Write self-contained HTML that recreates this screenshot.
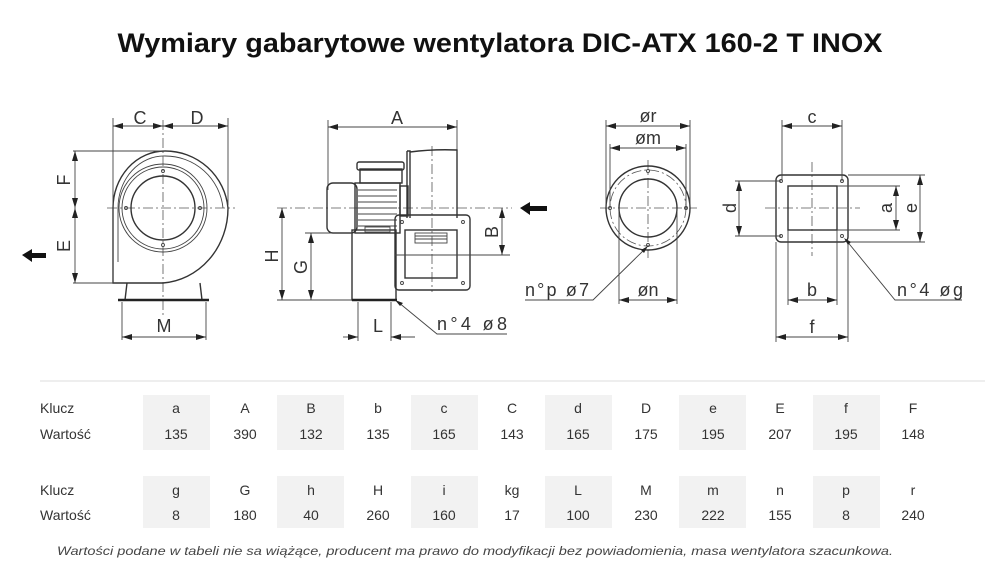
<!DOCTYPE html>
<html><head><meta charset="utf-8"><style>
html,body{margin:0;padding:0;background:#fff;}
svg{display:block;}
.l{stroke:#444;stroke-width:0.9;fill:none;}
.t{stroke:#333;stroke-width:1.4;fill:none;}
.c{stroke:#555;stroke-width:0.8;fill:none;stroke-dasharray:10 3 2 3;}
.lab{font-family:"Liberation Sans",sans-serif;font-size:18px;fill:#333;text-anchor:middle;}
.tb{font-family:"Liberation Sans",sans-serif;font-size:14px;fill:#333;text-anchor:middle;}
.tk{font-family:"Liberation Sans",sans-serif;font-size:14px;fill:#333;}
</style></head><body>
<svg width="1000" height="586" viewBox="0 0 1000 586" xmlns="http://www.w3.org/2000/svg">
<defs>
<marker id="a" viewBox="0 0 10 6" refX="10" refY="3" markerWidth="10" markerHeight="6" orient="auto-start-reverse" markerUnits="userSpaceOnUse"><path d="M0,0 L10,3 L0,6 z" fill="#222"/></marker>
</defs>
<rect width="1000" height="586" fill="#fff"/>
<text x="500" y="52" font-family="Liberation Sans,sans-serif" font-weight="bold" font-size="27" text-anchor="middle" textLength="765" lengthAdjust="spacingAndGlyphs" fill="#111">Wymiary gabarytowe wentylatora DIC-ATX 160-2 T INOX</text>

<!-- Drawing 1 -->
<g>
<line class="c" x1="163" y1="120" x2="163" y2="318"/>
<line class="c" x1="107" y1="208" x2="235" y2="208"/>
<path class="t" d="M113,283 L113,208 A52,57 0 0 1 165,151 A63,63 0 0 1 228,208 A70,75 0 0 1 163,283 Z"/>
<path class="l" d="M118,262 L118,208 A46,52 0 0 1 165,156 A58,58 0 0 1 223,208"/>
<circle class="l" cx="163" cy="208" r="44"/>
<circle class="l" cx="163" cy="208" r="41"/>
<circle class="t" cx="163" cy="208" r="32"/>
<circle class="l" cx="163" cy="171" r="1.5"/><circle class="l" cx="163" cy="245" r="1.5"/>
<circle class="l" cx="126" cy="208" r="1.5"/><circle class="l" cx="200" cy="208" r="1.5"/>
<path class="t" d="M127,283 L125,300 M200,283 L202,300"/>
<line x1="118" y1="300" x2="209" y2="300" stroke="#222" stroke-width="2.5"/>
<line class="l" x1="113" y1="118" x2="113" y2="283"/>
<line class="l" x1="228" y1="118" x2="228" y2="205"/>
<line class="l" x1="113" y1="126" x2="163" y2="126" marker-start="url(#a)" marker-end="url(#a)"/>
<line class="l" x1="163" y1="126" x2="228" y2="126" marker-start="url(#a)" marker-end="url(#a)"/>
<text class="lab" x="140" y="124">C</text><text class="lab" x="197" y="124">D</text>
<line class="l" x1="73" y1="151" x2="170" y2="151"/>
<line class="l" x1="73" y1="283" x2="113" y2="283"/>
<line class="l" x1="75" y1="151" x2="75" y2="208" marker-start="url(#a)" marker-end="url(#a)"/>
<line class="l" x1="75" y1="208" x2="75" y2="283" marker-start="url(#a)" marker-end="url(#a)"/>
<text class="lab" transform="translate(70,180) rotate(-90)">F</text>
<text class="lab" transform="translate(70,246) rotate(-90)">E</text>
<path d="M22,255 L32,249 L32,253 L46,253 L46,258 L32,258 L32,262 Z" fill="#111"/>
<line class="l" x1="122" y1="302" x2="122" y2="340"/><line class="l" x1="206" y1="302" x2="206" y2="340"/>
<line class="l" x1="122" y1="337" x2="206" y2="337" marker-start="url(#a)" marker-end="url(#a)"/>
<text class="lab" x="164" y="332">M</text>
</g>

<!-- Drawing 2 -->
<g>
<line class="c" x1="277" y1="208" x2="512" y2="208"/>
<line class="c" x1="432" y1="146" x2="432" y2="292"/>
<line class="l" x1="328" y1="120" x2="328" y2="190"/><line class="l" x1="457" y1="120" x2="457" y2="152"/>
<line class="l" x1="328" y1="127" x2="457" y2="127" marker-start="url(#a)" marker-end="url(#a)"/>
<text class="lab" x="397" y="124">A</text>
<rect class="t" x="327" y="183" width="30" height="50" rx="6"/>
<rect class="t" x="355" y="183" width="45" height="50"/>
<g class="l"><line x1="358" y1="190" x2="397" y2="190"/><line x1="358" y1="196" x2="397" y2="196"/><line x1="358" y1="202" x2="397" y2="202"/><line x1="358" y1="208" x2="397" y2="208"/><line x1="358" y1="214" x2="397" y2="214"/><line x1="358" y1="220" x2="397" y2="220"/><line x1="358" y1="226" x2="397" y2="226"/></g>
<rect class="t" x="360" y="169" width="42" height="14"/>
<rect class="t" x="357" y="162" width="47" height="8" rx="2"/>
<rect class="t" x="400" y="186" width="8" height="30"/>
<path class="t" d="M407,151 L407,218 M407,151 L410,151 L410,218 M410,152 Q433,149 457,150 L457,218"/>
<rect class="t" x="395" y="215" width="75" height="75" rx="4"/>
<rect class="t" x="405" y="230" width="52" height="48"/>
<rect class="l" x="415" y="233" width="32" height="10"/>
<line class="l" x1="415" y1="236" x2="447" y2="236"/><line class="l" x1="415" y1="239" x2="447" y2="239"/>
<circle class="l" cx="402" cy="222" r="1.5"/><circle class="l" cx="463" cy="222" r="1.5"/><circle class="l" cx="402" cy="283" r="1.5"/><circle class="l" cx="463" cy="283" r="1.5"/>
<rect class="t" x="352" y="230" width="44" height="70"/>
<rect class="l" x="365" y="227" width="25" height="5"/>
<line x1="352" y1="300" x2="397" y2="300" stroke="#222" stroke-width="2.5"/>
<line class="l" x1="277" y1="300" x2="352" y2="300"/>
<line class="l" x1="305" y1="233" x2="352" y2="233"/>
<line class="l" x1="282" y1="208" x2="282" y2="300" marker-start="url(#a)" marker-end="url(#a)"/>
<line class="l" x1="311" y1="233" x2="311" y2="300" marker-start="url(#a)" marker-end="url(#a)"/>
<text class="lab" transform="translate(278,256) rotate(-90)">H</text>
<text class="lab" transform="translate(307,267) rotate(-90)">G</text>
<line class="l" x1="395" y1="255" x2="510" y2="255"/>
<line class="l" x1="502" y1="208" x2="502" y2="255" marker-start="url(#a)" marker-end="url(#a)"/>
<text class="lab" transform="translate(498,232) rotate(-90)">B</text>
<line class="l" x1="358" y1="302" x2="358" y2="341"/><line class="l" x1="391" y1="302" x2="391" y2="341"/>
<line class="l" x1="343" y1="337" x2="358" y2="337" marker-end="url(#a)"/>
<line class="l" x1="415" y1="337" x2="391" y2="337" marker-end="url(#a)"/>
<text class="lab" x="378" y="332">L</text>
<path class="l" d="M507,334 L437,334 L398,302"/>
<path d="M395,300 L403,303 L400,306 Z" fill="#222"/>
<text class="lab" x="472" y="330" textLength="70">n°4  ø8</text>
<path d="M520,208 L530,202 L530,206 L547,206 L547,211 L530,211 L530,215 Z" fill="#111"/>
</g>

<!-- Drawing 3 -->
<g>
<line class="c" x1="600" y1="208" x2="697" y2="208"/>
<line class="c" x1="648" y1="160" x2="648" y2="258"/>
<circle class="t" cx="648" cy="208" r="42"/>
<circle class="c" cx="648" cy="208" r="38"/>
<circle class="t" cx="648" cy="208" r="29"/>
<circle class="l" cx="648" cy="171" r="1.5"/><circle class="l" cx="648" cy="245" r="1.5"/><circle class="l" cx="610" cy="208" r="1.5"/><circle class="l" cx="686" cy="208" r="1.5"/>
<line class="l" x1="606" y1="120" x2="606" y2="208"/><line class="l" x1="690" y1="120" x2="690" y2="208"/>
<line class="l" x1="610" y1="144" x2="610" y2="208"/><line class="l" x1="686" y1="144" x2="686" y2="208"/>
<line class="l" x1="606" y1="126" x2="690" y2="126" marker-start="url(#a)" marker-end="url(#a)"/>
<line class="l" x1="610" y1="148" x2="686" y2="148" marker-start="url(#a)" marker-end="url(#a)"/>
<text class="lab" x="648" y="122">ør</text><text class="lab" x="648" y="144">øm</text>
<line class="l" x1="619" y1="208" x2="619" y2="304"/><line class="l" x1="677" y1="208" x2="677" y2="304"/>
<line class="l" x1="619" y1="300" x2="677" y2="300" marker-start="url(#a)" marker-end="url(#a)"/>
<text class="lab" x="648" y="296">øn</text>
<path class="l" d="M525,300 L593,300 L646,248"/>
<path d="M648,246 L644,253 L641,250 Z" fill="#222"/>
<text class="lab" x="557" y="296" textLength="64">n°p  ø7</text>
</g>

<!-- Drawing 4 -->
<g>
<line class="c" x1="765" y1="208" x2="860" y2="208"/>
<line class="c" x1="812" y1="162" x2="812" y2="256"/>
<rect class="t" x="776" y="175" width="72" height="67" rx="5"/>
<rect class="t" x="788" y="186" width="49" height="44"/>
<circle class="l" cx="781" cy="181" r="1.5"/><circle class="l" cx="842" cy="181" r="1.5"/><circle class="l" cx="781" cy="236" r="1.5"/><circle class="l" cx="842" cy="236" r="1.5"/>
<line class="l" x1="782" y1="120" x2="782" y2="181"/><line class="l" x1="842" y1="120" x2="842" y2="181"/>
<line class="l" x1="782" y1="126" x2="842" y2="126" marker-start="url(#a)" marker-end="url(#a)"/>
<text class="lab" x="812" y="123">c</text>
<line class="l" x1="735" y1="181" x2="781" y2="181"/><line class="l" x1="735" y1="236" x2="781" y2="236"/>
<line class="l" x1="739" y1="181" x2="739" y2="236" marker-start="url(#a)" marker-end="url(#a)"/>
<text class="lab" transform="translate(736,208) rotate(-90)">d</text>
<line class="l" x1="837" y1="186" x2="900" y2="186"/><line class="l" x1="837" y1="230" x2="900" y2="230"/>
<line class="l" x1="896" y1="186" x2="896" y2="230" marker-start="url(#a)" marker-end="url(#a)"/>
<text class="lab" transform="translate(892,208) rotate(-90)">a</text>
<line class="l" x1="848" y1="175" x2="925" y2="175"/><line class="l" x1="848" y1="242" x2="925" y2="242"/>
<line class="l" x1="920" y1="175" x2="920" y2="242" marker-start="url(#a)" marker-end="url(#a)"/>
<text class="lab" transform="translate(917,208) rotate(-90)">e</text>
<line class="l" x1="788" y1="230" x2="788" y2="305"/><line class="l" x1="837" y1="230" x2="837" y2="305"/>
<line class="l" x1="788" y1="300" x2="837" y2="300" marker-start="url(#a)" marker-end="url(#a)"/>
<text class="lab" x="812" y="296">b</text>
<line class="l" x1="776" y1="242" x2="776" y2="342"/><line class="l" x1="848" y1="242" x2="848" y2="342"/>
<line class="l" x1="776" y1="337" x2="848" y2="337" marker-start="url(#a)" marker-end="url(#a)"/>
<text class="lab" x="812" y="333">f</text>
<path class="l" d="M962,300 L895,300 L846,240"/>
<path d="M844,238 L851,242 L848,245 Z" fill="#222"/>
<text class="lab" x="930" y="296" textLength="66">n°4  øg</text>
</g>

<!-- Table -->
<line x1="40" y1="381" x2="985" y2="381" stroke="#ddd" stroke-width="1"/>
<g fill="#f2f2f2">
<rect x="143" y="395" width="67" height="55"/><rect x="277" y="395" width="67" height="55"/><rect x="411" y="395" width="67" height="55"/><rect x="545" y="395" width="67" height="55"/><rect x="679" y="395" width="67" height="55"/><rect x="813" y="395" width="67" height="55"/>
<rect x="143" y="476" width="67" height="52"/><rect x="277" y="476" width="67" height="52"/><rect x="411" y="476" width="67" height="52"/><rect x="545" y="476" width="67" height="52"/><rect x="679" y="476" width="67" height="52"/><rect x="813" y="476" width="67" height="52"/>
</g>
<text class="tk" x="40" y="413">Klucz</text><text class="tk" x="40" y="439">Wartość</text>
<text class="tk" x="40" y="495">Klucz</text><text class="tk" x="40" y="520">Wartość</text>
<g class="tb">
<text x="176" y="413">a</text><text x="245" y="413">A</text><text x="311" y="413">B</text><text x="378" y="413">b</text><text x="444" y="413">c</text><text x="512" y="413">C</text><text x="578" y="413">d</text><text x="646" y="413">D</text><text x="713" y="413">e</text><text x="780" y="413">E</text><text x="846" y="413">f</text><text x="913" y="413">F</text>
<text x="176" y="439">135</text><text x="245" y="439">390</text><text x="311" y="439">132</text><text x="378" y="439">135</text><text x="444" y="439">165</text><text x="512" y="439">143</text><text x="578" y="439">165</text><text x="646" y="439">175</text><text x="713" y="439">195</text><text x="780" y="439">207</text><text x="846" y="439">195</text><text x="913" y="439">148</text>
<text x="176" y="495">g</text><text x="245" y="495">G</text><text x="311" y="495">h</text><text x="378" y="495">H</text><text x="444" y="495">i</text><text x="512" y="495">kg</text><text x="578" y="495">L</text><text x="646" y="495">M</text><text x="713" y="495">m</text><text x="780" y="495">n</text><text x="846" y="495">p</text><text x="913" y="495">r</text>
<text x="176" y="520">8</text><text x="245" y="520">180</text><text x="311" y="520">40</text><text x="378" y="520">260</text><text x="444" y="520">160</text><text x="512" y="520">17</text><text x="578" y="520">100</text><text x="646" y="520">230</text><text x="713" y="520">222</text><text x="780" y="520">155</text><text x="846" y="520">8</text><text x="913" y="520">240</text>
</g>
<text x="57" y="555" font-family="Liberation Sans,sans-serif" font-style="italic" font-size="11.5" fill="#444" textLength="836" lengthAdjust="spacingAndGlyphs">Wartości podane w tabeli nie sa wiążące, producent ma prawo do modyfikacji bez powiadomienia, masa wentylatora szacunkowa.</text>
</svg>
</body></html>
